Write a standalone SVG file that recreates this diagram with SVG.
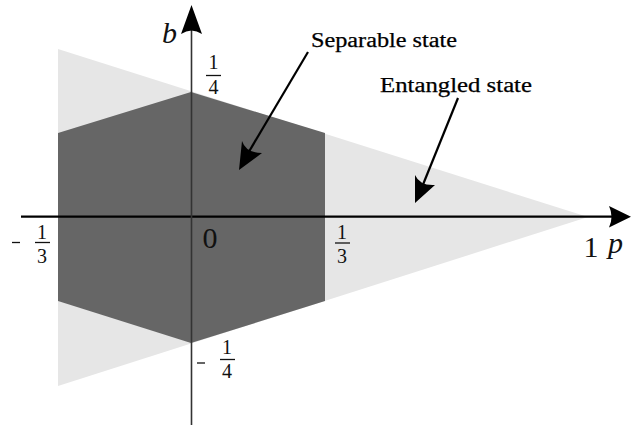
<svg xmlns="http://www.w3.org/2000/svg" width="631" height="430" viewBox="0 0 631 430">
<style>
text{font-family:'Liberation Serif','DejaVu Serif','Times New Roman',serif}
.num{font-size:20px;fill:#111}
.big{font-size:30px;fill:#111}
.it{font-style:italic;font-size:30px;fill:#111}
.lbl{font-size:20px;fill:#000;stroke:#000;stroke-width:0.25}
.bar{stroke:#111;stroke-width:1.3}
.ptr{stroke:#000;stroke-width:2.2;fill:none}
</style>
<rect width="631" height="430" fill="#fff"/>
<g id="entangled-region"><polygon points="58,49 58,386 588,217" fill="#e6e6e6"/></g>
<g id="separable-region"><polygon points="58,133 191,92 325,133 325,301 191,343 58,301" fill="#666666"/></g>
<g id="connectors">
<line x1="21" y1="216.7" x2="614" y2="216.7" stroke="#000" stroke-width="2.2"/>
<path d="M631,216.7 L609,206 Q614,216.7 609,227.4 Z" fill="#000"/>
<line x1="191.5" y1="425" x2="191.5" y2="28" stroke="#333" stroke-width="1.6"/>
<path d="M191.5,5 L181,34 Q191.5,27 202,34 Z" fill="#000"/>
<line class="ptr" x1="308" y1="52" x2="244" y2="160"/>
<path d="M239,170 L242,141 Q246,153 262,153 Z" fill="#000"/>
<line class="ptr" x1="458" y1="98" x2="420" y2="192"/>
<path d="M415,203 L415,175 Q420,186 435,185 Z" fill="#000"/>
</g>
<g id="axis-b"><text class="it" x="162" y="43">b</text></g>
<g id="axis-p"><text class="it" x="608" y="253">p</text></g>
<g id="tick-quarter"><text class="num" x="213.5" y="69" text-anchor="middle">1</text><line class="bar" x1="206" y1="75.5" x2="221" y2="75.5"/><text class="num" x="213.5" y="94" text-anchor="middle">4</text></g>
<g id="tick-neg-third"><line class="bar" x1="12" y1="242.5" x2="20" y2="242.5"/><text class="num" x="42" y="238.5" text-anchor="middle">1</text><line class="bar" x1="35" y1="242.5" x2="50" y2="242.5"/><text class="num" x="42" y="263" text-anchor="middle">3</text></g>
<g id="tick-zero"><text class="big" x="210" y="248" text-anchor="middle">0</text></g>
<g id="tick-third"><text class="num" x="342" y="238.5" text-anchor="middle">1</text><line class="bar" x1="335" y1="243" x2="350" y2="243"/><text class="num" x="342" y="263" text-anchor="middle">3</text></g>
<g id="tick-neg-quarter"><line class="bar" x1="197" y1="363" x2="205" y2="363"/><text class="num" x="227" y="354" text-anchor="middle">1</text><line class="bar" x1="220" y1="359.5" x2="235" y2="359.5"/><text class="num" x="227" y="378" text-anchor="middle">4</text></g>
<g id="tick-one"><text class="big" x="591" y="257" text-anchor="middle">1</text></g>
<g id="label-separable"><text class="lbl" x="311" y="47" textLength="146" lengthAdjust="spacingAndGlyphs">Separable state</text></g>
<g id="label-entangled"><text class="lbl" x="380" y="92" textLength="152" lengthAdjust="spacingAndGlyphs">Entangled state</text></g>
</svg>
